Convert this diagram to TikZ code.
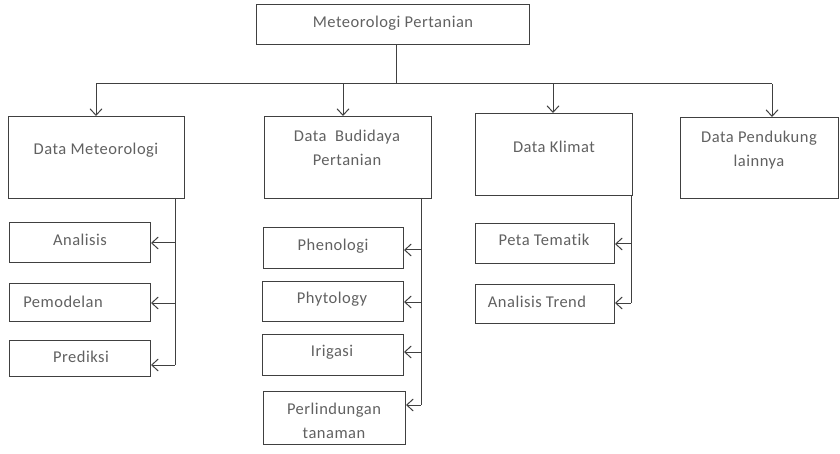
\documentclass[tikz,border=0pt]{standalone}
\usepackage{fontspec}
\setmainfont{Carlito}[LetterSpace=3,Ligatures={NoCommon}]
\usetikzlibrary{arrows.meta}
\begin{document}
\begin{tikzpicture}[x=1pt,y=-1pt,
  box/.style={draw=black!75, line width=1pt, inner sep=0pt, anchor=north west, fill=white},
  lbl/.style={inner sep=0pt, text=black!62, font=\fontsize{16.5}{24}\selectfont, align=center},
  ln/.style={draw=black!75, line width=1pt},
  arr/.style={ln, -{Straight Barb[length=6.5pt,width=12pt,line width=1pt]}}]
\useasboundingbox (0,0) rectangle (840,454);
% top
\node[box, minimum width=273pt, minimum height=40pt] (top) at (256,4) {};
\node[lbl] (ttop) at (393,23) {Meteorologi Pertanian};
% main boxes
\node[box, minimum width=176pt, minimum height=82pt] (dm) at (8,116) {};
\node[lbl] (tdm) at (96,150) {Data Meteorologi};
\node[box, minimum width=167pt, minimum height=82pt] (db) at (264,116) {};
\node[lbl] (tdb) at (347,148) {Data\ \ Budidaya\\Pertanian};
\node[box, minimum width=157pt, minimum height=82pt] (dk) at (475,113) {};
\node[lbl] (tdk) at (554,147) {Data Klimat};
\node[box, minimum width=158pt, minimum height=81pt] (dp) at (680,117) {};
\node[lbl] (tdp) at (759,150) {Data Pendukung\\lainnya};
% bus
\coordinate (bus) at (396,84);
\coordinate (b1) at (96,84);
\coordinate (b2) at (343,84);
\coordinate (b3) at (553,84);
\coordinate (b4) at (772,84);
\draw[ln] (top.south -| bus) -- (bus);
\draw[ln] (b1) -- (b4);
\draw[arr] (b1) -- (b1 |- dm.north);
\draw[arr] (b2) -- (b2 |- db.north);
\draw[arr] (b3) -- (b3 |- dk.north);
\draw[arr] (b4) -- (b4 |- dp.north);
% meteorologi column
\node[box, minimum width=141pt, minimum height=40pt] (an) at (9,222) {};
\node[lbl] (tan) at (80,240) {Analisis};
\node[box, minimum width=141pt, minimum height=38pt] (pm) at (9,283) {};
\node[lbl] (tpm) at (63,302) {Pemodelan};
\node[box, minimum width=141pt, minimum height=36pt] (pr) at (9,340) {};
\node[lbl] (tpr) at (81,357) {Prediksi};
\coordinate (c1) at (175,198);
\coordinate (c1e) at (175,365);
\draw[ln] (c1) -- (c1e);
\draw[arr] (175,243) -- (an.east |- 0,243);
\draw[arr] (175,303) -- (pm.east |- 0,303);
\draw[arr] (c1e) -- (pr.east |- c1e);
% budidaya column
\node[box, minimum width=140pt, minimum height=41pt] (ph) at (263,227) {};
\node[lbl] (tph) at (333,246) {Phenologi};
\node[box, minimum width=141pt, minimum height=40pt] (py) at (262,281) {};
\node[lbl] (tpy) at (332,299) {Phytology};
\node[box, minimum width=141pt, minimum height=41pt] (ir) at (262,334) {};
\node[lbl] (tir) at (332,352) {Irigasi};
\node[box, minimum width=142pt, minimum height=53pt] (pl) at (263,391) {};
\node[lbl] (tpl) at (334,421) {Perlindungan\\tanaman};
\coordinate (c2) at (421,198);
\coordinate (c2e) at (421,405);
\draw[ln] (c2) -- (c2e);
\draw[arr] (421,250) -- (ph.east |- 0,250);
\draw[arr] (421,302) -- (py.east |- 0,302);
\draw[arr] (421,352) -- (ir.east |- 0,352);
\draw[arr] (c2e) -- (pl.east |- c2e);
% klimat column
\node[box, minimum width=139pt, minimum height=40pt] (pt) at (475,223) {};
\node[lbl] (tpt) at (544,240) {Peta Tematik};
\node[box, minimum width=139pt, minimum height=39pt] (at) at (475,284) {};
\node[lbl] (tat) at (537,302) {Analisis Trend};
\coordinate (c3) at (631,195);
\coordinate (c3e) at (631,303);
\draw[ln] (c3) -- (c3e);
\draw[arr] (631,244) -- (pt.east |- 0,244);
\draw[arr] (c3e) -- (at.east |- c3e);
\end{tikzpicture}
\end{document}
